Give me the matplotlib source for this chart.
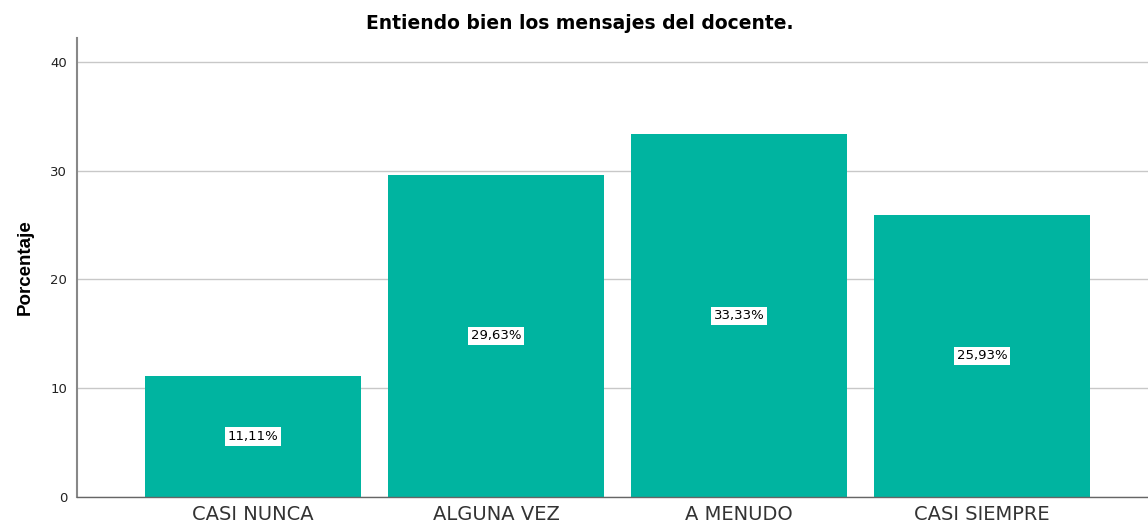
import matplotlib
matplotlib.use("Agg")
import matplotlib.pyplot as plt

# data
categorias = ["CASI NUNCA", "ALGUNA VEZ", "A MENUDO", "CASI SIEMPRE"]
porcentajes = [11.11, 29.63, 33.33, 25.93]
etiquetas = ["11,11%", "29,63%", "33,33%", "25,93%"]

# the reference text looks horizontally wide, DejaVu Sans is the closest match
plt.rcParams['font.family'] = ['DejaVu Sans']

fig = plt.figure(figsize=(11.48, 5.25), dpi=100)
ax = fig.add_axes([0.0671, 0.0533, 0.9329, 0.8743])

x = list(range(len(categorias)))
bars = ax.bar(x, porcentajes, width=0.89, color="#00b4a0", zorder=2)

for b, val, lab in zip(bars, porcentajes, etiquetas):
    ax.text(b.get_x() + b.get_width() / 2, val / 2, lab, ha="center", va="center",
            fontsize=9.5, color="black", zorder=3,
            bbox=dict(boxstyle="square,pad=0.2", facecolor="white", edgecolor="none"))

ax.set_xlim(-0.724, 3.683)
ax.set_ylim(0, 42.2)
ax.set_yticks([0, 10, 20, 30, 40])
ax.yaxis.grid(True, color="#c8c8c8", linewidth=1, zorder=0)
ax.set_axisbelow(True)
ax.set_xticks(x)
ax.set_xticklabels(categorias, fontsize=14, color="#333333")
ax.tick_params(axis="y", length=0, labelsize=9.5, colors="#222222", pad=7)
ax.tick_params(axis="x", length=0, pad=6)

for s in ["top", "right"]:
    ax.spines[s].set_visible(False)
ax.spines["left"].set_color("#888888")
ax.spines["left"].set_linewidth(1.5)
ax.spines["bottom"].set_color("#666666")
ax.spines["bottom"].set_linewidth(1)

ax.set_ylabel("Porcentaje", fontsize=13.5, fontweight="bold", labelpad=12,
              family="Liberation Sans")
fig.text(0.505, 0.955, "Entiendo bien los mensajes del docente.", ha="center", va="center",
         fontsize=13.5, fontweight="bold")

fig.savefig("out.png", dpi=100)
